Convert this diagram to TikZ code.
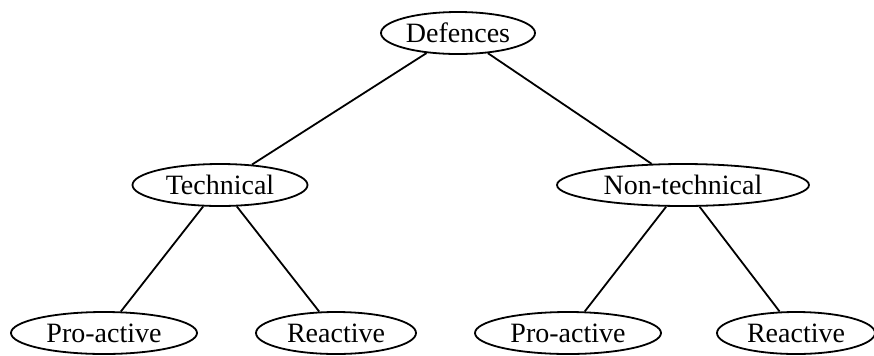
\documentclass[tikz,border=0pt]{standalone}
\usepackage{fontspec}
\setmainfont{Liberation Serif}
\usetikzlibrary{shapes.geometric}
\begin{document}
\begin{tikzpicture}[
    x=0.5pt, y=-0.5pt,
    term/.style={ellipse, draw, line width=0.9pt, minimum height=21pt, inner sep=0pt, font=\fontsize{14}{16}\selectfont},
    link/.style={line width=0.9pt}
]
    \useasboundingbox (0,0) rectangle (874,355);

    % Nodes
    \node[term, minimum width=77pt] (def) at (458,33) {Defences};

    \node[term, minimum width=87.5pt] (tech) at (220,185) {Technical};
    \node[term, minimum width=126pt] (nontech) at (683,185) {Non-technical};

    \node[term, minimum width=93pt] (tpro) at (104,333) {Pro-active};
    \node[term, minimum width=80pt] (treact) at (336,333) {Reactive};
    \node[term, minimum width=93pt] (npro) at (568,333) {Pro-active};
    \node[term, minimum width=79pt] (nreact) at (796,333) {Reactive};

    % Edges
    \draw[link] (def) -- (tech);
    \draw[link] (def) -- (nontech);
    \draw[link] (tech) -- (tpro);
    \draw[link] (tech) -- (treact);
    \draw[link] (nontech) -- (npro);
    \draw[link] (nontech) -- (nreact);

\end{tikzpicture}
\end{document}
